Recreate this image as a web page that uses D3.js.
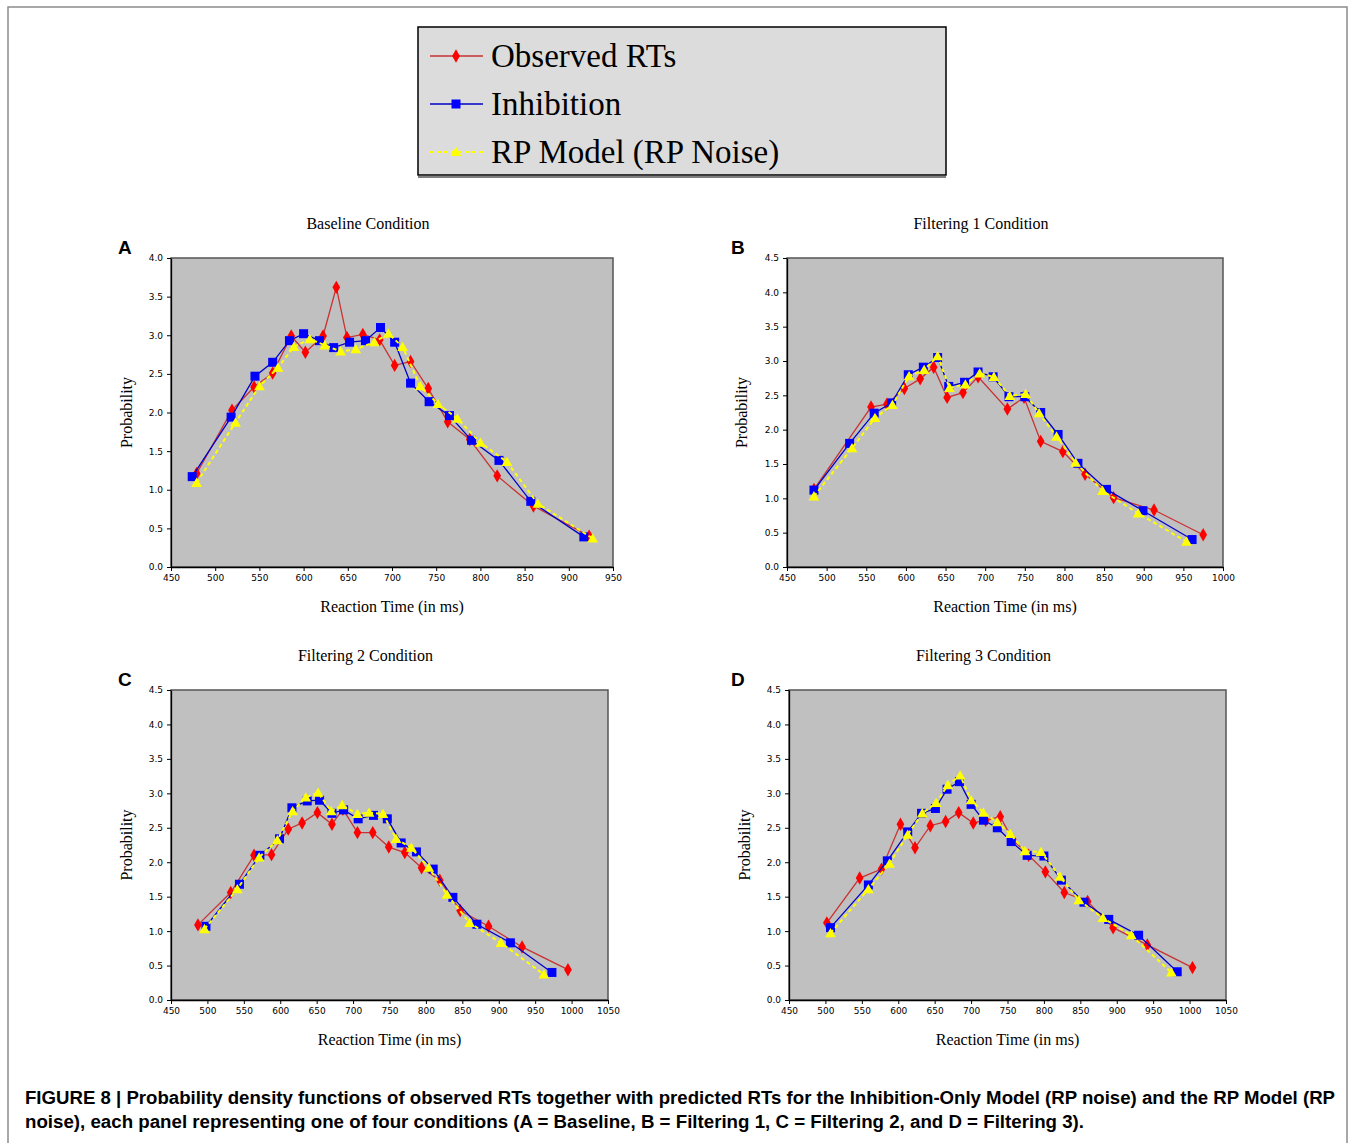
<!DOCTYPE html>
<html>
<head>
<meta charset="utf-8">
<title>Figure 8</title>
<script src="https://d3js.org/d3.v7.min.js"></script>
<style>
  body { margin: 0; background: #fff; }
  .tick text { font-family: "DejaVu Sans", sans-serif; font-size: 9px; fill: #000; }
  .serif { font-family: "Liberation Serif", "Times New Roman", serif; }
</style>
</head>
<body>
<svg id="fig" width="1355" height="1143"></svg>
<script>
// ---- data: [reaction time ms, probability] ----
// Panel A: Baseline
var obsA = [[479,1.21],[519,2.03],[544,2.33],[565,2.51],[586,2.99],[602,2.78],[622,2.99],[637,3.62],[649,2.97],[667,3.01],[686,2.94],[703,2.61],[721,2.66],[741,2.31],[763,1.88],[788,1.65],[819,1.18],[860,0.79],[923,0.40]];
var inhA = [[474,1.17],[518,1.94],[545,2.47],[565,2.65],[584,2.93],[600,3.02],[618,2.93],[634,2.84],[652,2.91],[670,2.93],[687,3.10],[703,2.91],[721,2.38],[742,2.14],[765,1.96],[790,1.64],[821,1.38],[857,0.85],[917,0.39]];
var rpA  = [[479,1.09],[523,1.87],[550,2.34],[571,2.58],[589,2.85],[607,2.95],[624,2.87],[642,2.79],[659,2.82],[680,2.91],[696,3.02],[712,2.85],[732,2.34],[752,2.11],[774,1.92],[800,1.61],[830,1.36],[865,0.82],[927,0.37]];
// Panel B: Filtering 1
var obsB = [[484,1.13],[556,2.33],[576,2.37],[598,2.60],[618,2.74],[635,2.91],[652,2.47],[672,2.54],[691,2.77],[728,2.30],[749,2.47],[770,1.83],[798,1.68],[826,1.35],[862,1.01],[913,0.83],[975,0.47]];
var inhB = [[484,1.12],[529,1.80],[560,2.24],[582,2.39],[603,2.80],[622,2.91],[640,3.05],[654,2.63],[674,2.69],[691,2.84],[710,2.77],[730,2.48],[750,2.48],[770,2.25],[792,1.93],[817,1.51],[853,1.13],[899,0.82],[961,0.40]];
var rpB  = [[484,1.03],[532,1.73],[561,2.17],[583,2.36],[604,2.78],[623,2.87],[640,3.07],[655,2.61],[675,2.66],[693,2.82],[711,2.77],[731,2.49],[751,2.52],[768,2.24],[790,1.90],[814,1.52],[848,1.11],[893,0.78],[954,0.37]];
// Panel C: Filtering 2
var obsC = [[487,1.09],[532,1.56],[564,2.10],[588,2.11],[611,2.48],[630,2.57],[651,2.72],[671,2.55],[686,2.77],[706,2.43],[727,2.43],[749,2.22],[771,2.14],[794,1.92],[819,1.74],[847,1.30],[886,1.07],[932,0.77],[995,0.44]];
var inhC = [[498,1.07],[544,1.68],[572,2.10],[599,2.34],[616,2.79],[637,2.89],[654,2.90],[671,2.71],[687,2.76],[707,2.63],[728,2.68],[747,2.63],[766,2.28],[787,2.15],[810,1.90],[837,1.49],[870,1.10],[916,0.83],[973,0.40]];
var rpC  = [[496,1.03],[541,1.61],[571,2.07],[596,2.32],[617,2.74],[635,2.94],[652,3.01],[670,2.74],[685,2.83],[706,2.70],[722,2.72],[741,2.70],[759,2.34],[780,2.21],[804,1.92],[829,1.53],[860,1.12],[903,0.83],[962,0.37]];
// Panel D: Filtering 3
var obsD = [[502,1.12],[547,1.77],[577,1.90],[603,2.55],[623,2.21],[644,2.53],[665,2.59],[683,2.72],[703,2.57],[720,2.61],[740,2.66],[757,2.33],[779,2.10],[802,1.86],[828,1.56],[860,1.43],[895,1.05],[942,0.80],[1004,0.47]];
var inhD = [[507,1.05],[559,1.67],[585,2.02],[613,2.44],[632,2.71],[651,2.78],[667,3.06],[684,3.17],[700,2.84],[717,2.61],[736,2.50],[755,2.30],[777,2.10],[800,2.09],[824,1.74],[855,1.42],[889,1.17],[930,0.94],[983,0.41]];
var rpD  = [[507,0.97],[559,1.61],[588,1.98],[613,2.40],[633,2.71],[652,2.86],[668,3.12],[685,3.26],[700,2.90],[717,2.72],[736,2.58],[754,2.41],[774,2.16],[796,2.15],[822,1.79],[848,1.45],[881,1.19],[920,0.94],[975,0.40]];

var seriesNames = ["Observed RTs", "Inhibition", "RP Model (RP Noise)"];
var seriesColors = ["#ff0000", "#0000ff", "#ffff00"];
var lineColors = ["#c83232", "#0000c8", "#ffff00"];

var panels = [
  {letter: "A", title: "Baseline Condition",    data: [obsA, inhA, rpA], xMax: 950,  yMax: 4.0, left: 171, right: 613,  top: 258, bottom: 567, ylab: 127, lx: 118},
  {letter: "B", title: "Filtering 1 Condition", data: [obsB, inhB, rpB], xMax: 1000, yMax: 4.5, left: 787, right: 1223, top: 258, bottom: 567, ylab: 742, lx: 731},
  {letter: "C", title: "Filtering 2 Condition", data: [obsC, inhC, rpC], xMax: 1050, yMax: 4.5, left: 171, right: 608,  top: 690, bottom: 1000, ylab: 127, lx: 118},
  {letter: "D", title: "Filtering 3 Condition", data: [obsD, inhD, rpD], xMax: 1050, yMax: 4.5, left: 789, right: 1226, top: 690, bottom: 1000, ylab: 745, lx: 731}
];

var svg = d3.select("#fig");

// outer frame
svg.append("path")
  .attr("d", "M8,1143 V7 H1347 V1143")
  .attr("fill", "none").attr("stroke", "#8c8c8c").attr("stroke-width", 1.5);

function marker(g, i, x, y) {
  if (i == 0) {
    g.append("path").attr("d", d3.symbol(d3.symbolDiamond, 52)())
      .attr("transform", "translate(" + x + "," + y + ")")
      .attr("fill", seriesColors[0]);
  } else if (i == 1) {
    g.append("rect").attr("x", x - 4.5).attr("y", y - 4.5)
      .attr("width", 9).attr("height", 9).attr("fill", seriesColors[1]);
  } else {
    g.append("path").attr("d", d3.symbol(d3.symbolTriangle, 50)())
      .attr("transform", "translate(" + x + "," + (y + 1) + ")")
      .attr("fill", seriesColors[2]);
  }
}

function styleLine(sel, i) {
  sel.attr("fill", "none").attr("stroke", lineColors[i])
    .attr("stroke-width", i == 2 ? 2 : 1.3);
  if (i == 2) sel.attr("stroke-dasharray", "4,3");
}

panels.forEach(function(p) {
  var g = svg.append("g");
  var x = d3.scaleLinear([450, p.xMax], [p.left, p.right]);
  var y = d3.scaleLinear([0, p.yMax], [p.bottom, p.top]);

  g.append("rect")
    .attr("x", p.left).attr("y", p.top)
    .attr("width", p.right - p.left).attr("height", p.bottom - p.top)
    .attr("fill", "#c0c0c0").attr("stroke", "#555").attr("stroke-width", 1.5);

  var xAxis = g.append("g").attr("transform", "translate(0," + p.bottom + ")")
    .call(d3.axisBottom(x).tickValues(d3.range(450, p.xMax + 1, 50)).tickFormat(d3.format("d")).tickSize(4).tickSizeOuter(0).tickPadding(4));
  var yAxis = g.append("g").attr("transform", "translate(" + p.left + ",0)")
    .call(d3.axisLeft(y).tickValues(d3.range(0, p.yMax + 0.01, 0.5)).tickFormat(d3.format(".1f")).tickSize(4).tickSizeOuter(0).tickPadding(4));
  [xAxis, yAxis].forEach(function(a) {
    a.select(".domain").attr("stroke", "#000").attr("stroke-width", 1.3);
    a.selectAll(".tick line").attr("stroke", "#000");
  });

  var line = d3.line().x(function(d) { return x(d[0]); }).y(function(d) { return y(d[1]); });
  p.data.forEach(function(s, i) {
    styleLine(g.append("path").datum(s).attr("d", line), i);
    s.forEach(function(d) { marker(g, i, x(d[0]), y(d[1])); });
  });

  g.append("text").attr("class", "serif")
    .attr("x", (p.left + p.right) / 2 - 24).attr("y", p.top - 29)
    .attr("text-anchor", "middle").attr("font-size", 16).text(p.title);
  g.append("text").attr("class", "serif")
    .attr("x", (p.left + p.right) / 2).attr("y", p.bottom + 45)
    .attr("text-anchor", "middle").attr("font-size", 16).text("Reaction Time (in ms)");
  g.append("text").attr("class", "serif")
    .attr("transform", "translate(" + (p.ylab + 5) + "," + (p.top + p.bottom) / 2 + ") rotate(-90)")
    .attr("text-anchor", "middle").attr("font-size", 16).text("Probability");
  g.append("text")
    .attr("x", p.lx).attr("y", p.top - 4)
    .attr("font-family", "Liberation Sans, Arial, sans-serif").attr("font-weight", "bold")
    .attr("font-size", 19).text(p.letter);
});

// legend
var lg = svg.append("g");
lg.append("rect").attr("x", 418).attr("y", 27).attr("width", 528).attr("height", 148)
  .attr("fill", "#dcdcdc").attr("stroke", "#000").attr("stroke-width", 1.5);
lg.append("line").attr("x1", 418).attr("x2", 946).attr("y1", 177).attr("y2", 177)
  .attr("stroke", "#000").attr("stroke-width", 1.2);
seriesNames.forEach(function(n, i) {
  var yy = 56 + i * 48;
  styleLine(lg.append("line").attr("x1", 430).attr("x2", 483).attr("y1", yy).attr("y2", yy), i);
  marker(lg, i, 456, yy);
  lg.append("text").attr("class", "serif").attr("x", 491).attr("y", yy + 11)
    .attr("font-size", 33).text(n);
});

// caption
var cap = svg.append("g").attr("font-family", "Liberation Sans, Arial, sans-serif")
  .attr("font-weight", "bold").attr("font-size", 17.5);
cap.append("text").attr("x", 25).attr("y", 1104)
  .attr("textLength", 1310).attr("lengthAdjust", "spacingAndGlyphs")
  .text("FIGURE 8 | Probability density functions of observed RTs together with predicted RTs for the Inhibition-Only Model (RP noise) and the RP Model (RP");
cap.append("text").attr("x", 25).attr("y", 1128)
  .attr("textLength", 1059).attr("lengthAdjust", "spacingAndGlyphs")
  .text("noise), each panel representing one of four conditions (A = Baseline, B = Filtering 1, C = Filtering 2, and D = Filtering 3).");
</script>
</body>
</html>
